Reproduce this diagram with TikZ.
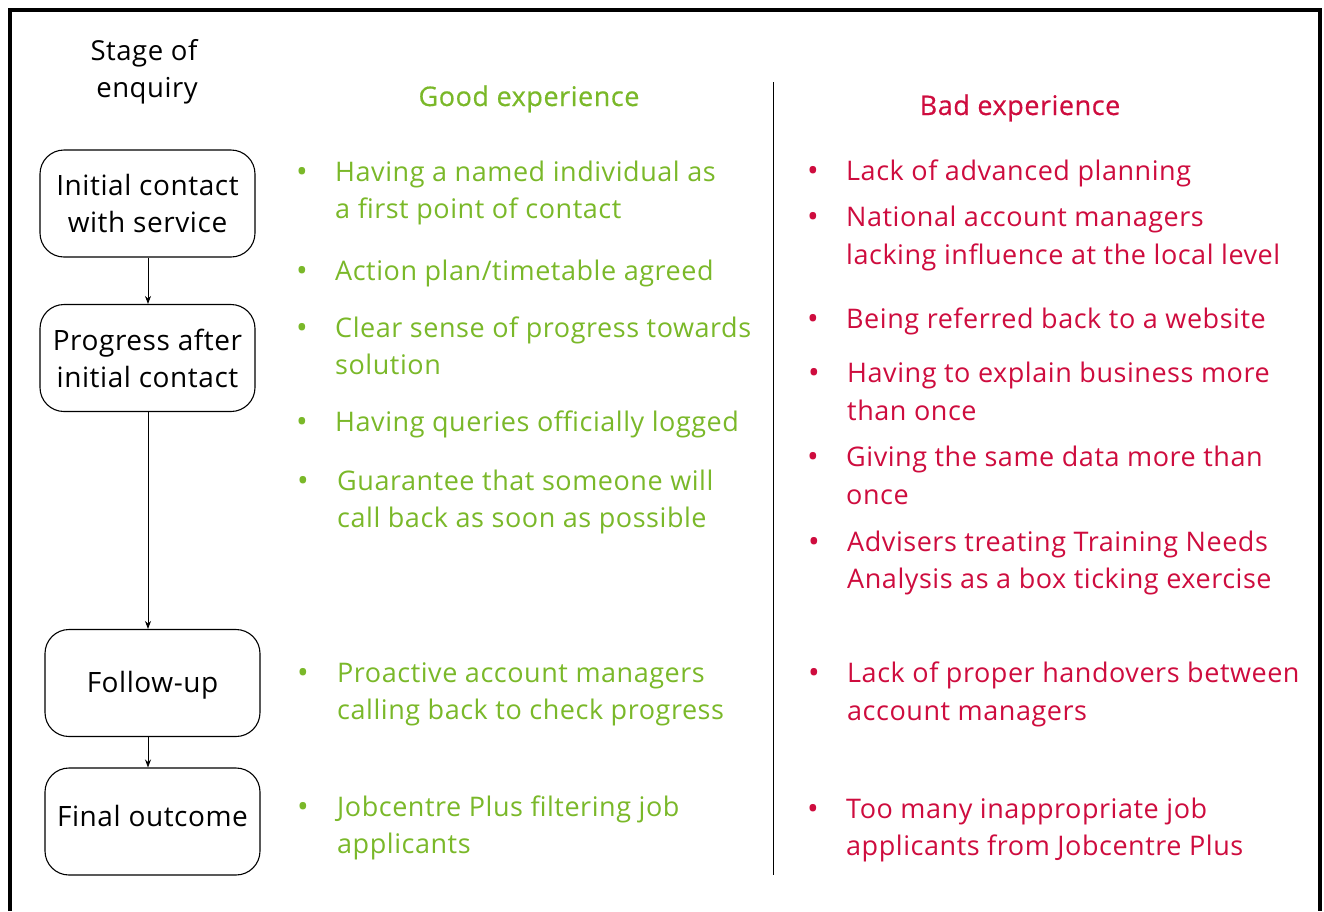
\documentclass[tikz,border=0pt]{standalone}
\usepackage{fontspec}
\setmainfont{Open Sans}[LetterSpace=2]
\newfontfamily\hdrfont{Open Sans}[LetterSpace=2,FakeBold=0.5]
\usetikzlibrary{arrows.meta}
\definecolor{goodc}{RGB}{122,184,41}
\definecolor{badc}{RGB}{206,12,62}
\tikzset{
  stagebox/.style={draw=black, line width=1.1pt, rounded corners=24pt, minimum width=215pt, minimum height=107pt, align=center, font=\fontsize{28}{37}\selectfont, inner sep=0pt},
  flowarrow/.style={-{Stealth[length=8pt,width=6pt]}, line width=0.8pt},
  gtxt/.style={anchor=base west, text=goodc, font=\fontsize{27}{37}\selectfont, inner sep=0pt},
  btxt/.style={anchor=base west, text=badc, font=\fontsize{27}{37}\selectfont, inner sep=0pt},
  gdot/.style={anchor=base, text=goodc, font=\fontsize{31}{24}\selectfont, inner sep=0pt},
  bdot/.style={anchor=base, text=badc, font=\fontsize{31}{24}\selectfont, inner sep=0pt},
  hdr/.style={anchor=base, font=\fontsize{27.5}{37}\selectfont, inner sep=0pt},
  chdr/.style={anchor=base, font=\hdrfont\fontsize{27}{37}\selectfont, inner sep=0pt}
}
\begin{document}
\begin{tikzpicture}[x=1pt,y=-1pt]
\useasboundingbox (0,0) rectangle (1324,911);
\draw[line width=3.5pt] (10,911) -- (10,10) -- (1320,10) -- (1320,911);
% headers
\node[hdr] (st1) at (144,60) {Stage of};
\node[hdr] (st2) at (147,97) {enquiry};
\node[chdr, text=goodc] (goodh) at (529,106) {Good experience};
\node[chdr, text=badc] (badh) at (1020,115) {Bad experience};
% divider
\coordinate (dtop) at (773,82);
\coordinate (dbot) at (773,875);
\draw[line width=0.9pt] (dtop) -- (dbot);
% stage boxes
\node[stagebox] (s1) at (147.5,203.5) {Initial contact\\with service};
\node[stagebox] (s2) at (147.5,358) {Progress after\\initial contact};
\node[stagebox] (s3) at (152.5,683) {\smash{\raisebox{-9pt}{Follow-up}}};
\node[stagebox] (s4) at (152.5,821.5) {\smash{\raisebox{-4.5pt}{Final outcome}}};
\draw[flowarrow] (s1.south -| 148,0) -- (s2.north -| 148,0);
\draw[flowarrow] (s2.south -| 148,0) -- (s3.north -| 148,0);
\draw[flowarrow] (s3.south -| 148,0) -- (s4.north -| 148,0);
% good items
\node[gdot] (gb1) at (302,182) {•};
\node[gtxt] (g1a) at (335,181) {Having a named individual as};
\node[gtxt] (g1b) at (335,218) {a first point of contact};
\node[gdot] (gb2) at (302,281) {•};
\node[gtxt] (g2a) at (335,280) {Action plan/timetable agreed};
\node[gdot] (gb3) at (302,338) {•};
\node[gtxt] (g3a) at (335,337) {Clear sense of progress towards};
\node[gtxt] (g3b) at (335,374) {solution};
\node[gdot] (gb4) at (302,432) {•};
\node[gtxt] (g4a) at (335,431) {Having queries officially logged};
\node[gdot] (gb5) at (303,491) {•};
\node[gtxt] (g5a) at (337,490) {Guarantee that someone will};
\node[gtxt] (g5b) at (337,527) {call back as soon as possible};
\node[gdot] (gb6) at (303,683) {•};
\node[gtxt] (g6a) at (337,682) {Proactive account managers};
\node[gtxt] (g6b) at (337,719) {calling back to check progress};
\node[gdot] (gb7) at (303,817) {•};
\node[gtxt] (g7a) at (337,816) {Jobcentre Plus filtering job};
\node[gtxt] (g7b) at (337,853) {applicants};
% bad items
\node[bdot] (bb1) at (813,181) {•};
\node[btxt] (b1a) at (846,180) {Lack of advanced planning};
\node[bdot] (bb2) at (813,227) {•};
\node[btxt] (b2a) at (846,226) {National account managers};
\node[btxt] (b2b) at (846,264) {lacking influence at the local level};
\node[bdot] (bb3) at (813,329) {•};
\node[btxt] (b3a) at (846,328) {Being referred back to a website};
\node[bdot] (bb4) at (814,383) {•};
\node[btxt] (b4a) at (847,382) {Having to explain business more};
\node[btxt] (b4b) at (847,420) {than once};
\node[bdot] (bb5) at (813,467) {•};
\node[btxt] (b5a) at (846,466) {Giving the same data more than};
\node[btxt] (b5b) at (846,504) {once};
\node[bdot] (bb6) at (814,552) {•};
\node[btxt] (b6a) at (847,551) {Advisers treating Training Needs};
\node[btxt] (b6b) at (847,588) {Analysis as a box ticking exercise};
\node[bdot] (bb7) at (814,683) {•};
\node[btxt] (b7a) at (847,682) {Lack of proper handovers between};
\node[btxt] (b7b) at (847,720) {account managers};
\node[bdot] (bb8) at (813,819) {•};
\node[btxt] (b8a) at (846,818) {Too many inappropriate job};
\node[btxt] (b8b) at (846,855) {applicants from Jobcentre Plus};
\end{tikzpicture}
\end{document}
